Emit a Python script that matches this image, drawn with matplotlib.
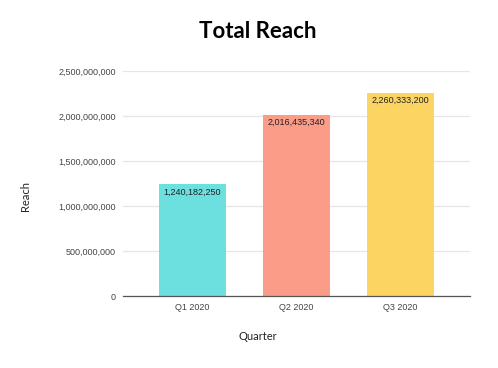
import numpy as np
import matplotlib
matplotlib.use('Agg')
import matplotlib.pyplot as plt
from matplotlib.ticker import FuncFormatter

quarters = ['Q1 2020', 'Q2 2020', 'Q3 2020']
reach = [1240182250, 2016435340, 2260333200]
colors = ['#6be0df', '#fa9c88', '#fcd462']
yticks = [0, 500000000, 1000000000, 1500000000, 2000000000, 2500000000]

fig = plt.figure(figsize=(4.98, 3.68), dpi=100)
ax = fig.add_axes([123/498, 1 - 296/368, 347/498, 225/368])

x = np.arange(len(quarters))
bars = ax.bar(x, reach, width=0.645, color=colors, zorder=2)

for xi, v in zip(x, reach):
    ax.annotate('{:,}'.format(v), xy=(xi, v), xytext=(0, -2.5),
                textcoords='offset points', ha='center', va='top',
                fontsize=6.5, family='Liberation Sans', color='#222222')

ax.set_xlim(-0.668, 2.668)
ax.set_ylim(0, 2500000000)
ax.set_yticks(yticks)
ax.yaxis.set_major_formatter(FuncFormatter(lambda v, p: '{:,}'.format(int(v))))
ax.set_xticks(x)
ax.set_xticklabels(quarters)

for lbl in ax.get_xticklabels() + ax.get_yticklabels():
    lbl.set_family('Liberation Sans')
    lbl.set_fontsize(6.5)
    lbl.set_color('#444444')

ax.tick_params(length=0, pad=5)
ax.grid(axis='y', color='#e6e6e6', linewidth=0.9, zorder=0)
for s in ['top', 'right', 'left']:
    ax.spines[s].set_visible(False)
ax.spines['bottom'].set_color('#555555')
ax.spines['bottom'].set_linewidth(0.9)
ax.spines['bottom'].set_zorder(3)

fig.text(258/498, 1 - 32/368, 'Total Reach', ha='center', va='center',
         fontsize=16, fontweight='bold', family='Lato')
fig.text(25/498, 1 - 196/368, 'Reach', rotation=90, ha='center', va='center',
         fontsize=8, family='Lato', color='#222222')
fig.text(258/498, 1 - 337/368, 'Quarter', ha='center', va='center',
         fontsize=8, family='Lato', color='#222222')

plt.savefig('out.png', dpi=100)
